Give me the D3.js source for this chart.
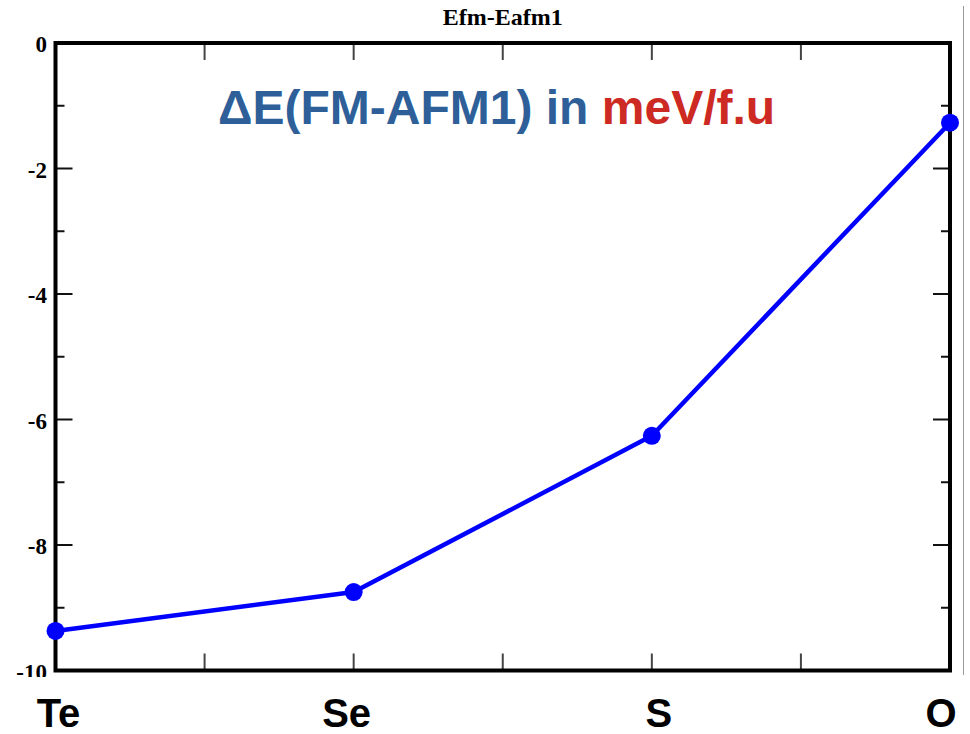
<!DOCTYPE html>
<html>
<head>
<meta charset="utf-8">
<script src="https://cdn.jsdelivr.net/npm/d3@7/dist/d3.min.js"></script>
<style>
  html, body { margin: 0; padding: 0; background: #fff; }
  svg { display: block; }
</style>
</head>
<body>
<script>
// Energy difference between FM and AFM1 orderings across the chalcogen series
const categories = ["Te", "Se", "S", "O"];
const deltaE = [-9.37, -8.75, -6.26, -1.27];
const yMajorTicks = [0, -2, -4, -6, -8, -10];
const yMinorTicks = [-1, -3, -5, -7, -9];
const xTicks = [0, 0.5, 1, 1.5, 2, 2.5, 3];
const plotTitle = "Efm-Eafm1";

const W = 970, H = 734;
const plotLeft = 55.5, plotRight = 950, plotTop = 43, plotBottom = 670.5;

const svg = d3.select("body").append("svg")
  .attr("width", W).attr("height", H);

const x = d3.scaleLinear().domain([0, categories.length - 1]).range([plotLeft, plotRight]);
const y = d3.scaleLinear().domain([-10, 0]).range([plotBottom, plotTop]);

// thin divider line at the right edge
svg.append("line")
  .attr("x1", 963.5).attr("x2", 963.5).attr("y1", 6).attr("y2", 675)
  .attr("stroke", "#999").attr("stroke-width", 1);

// title
svg.append("text")
  .attr("x", (plotLeft + plotRight) / 2).attr("y", 25)
  .attr("text-anchor", "middle")
  .attr("font-family", "'Liberation Serif', 'Times New Roman', serif")
  .attr("font-weight", "bold").attr("font-size", 24)
  .text(plotTitle);

// ticks: inward on all four sides
const tickG = svg.append("g").attr("stroke", "#111").attr("stroke-width", 2);
yMajorTicks.forEach(v => {
  tickG.append("line").attr("x1", plotLeft).attr("x2", plotLeft + 17).attr("y1", y(v)).attr("y2", y(v));
  tickG.append("line").attr("x1", plotRight).attr("x2", plotRight - 17).attr("y1", y(v)).attr("y2", y(v));
});
yMinorTicks.forEach(v => {
  tickG.append("line").attr("x1", plotLeft).attr("x2", plotLeft + 9).attr("y1", y(v)).attr("y2", y(v));
  tickG.append("line").attr("x1", plotRight).attr("x2", plotRight - 9).attr("y1", y(v)).attr("y2", y(v));
});
xTicks.forEach(v => {
  tickG.append("line").attr("x1", x(v)).attr("x2", x(v)).attr("y1", plotBottom).attr("y2", plotBottom - 17).attr("stroke", "#444");
  tickG.append("line").attr("x1", x(v)).attr("x2", x(v)).attr("y1", plotTop).attr("y2", plotTop + 17).attr("stroke", "#444");
});

// y tick labels
svg.append("g")
  .selectAll("text").data(yMajorTicks).join("text")
  .attr("x", 47).attr("y", d => y(d) + 9)
  .attr("text-anchor", "end")
  .attr("font-family", "'Liberation Serif', 'Times New Roman', serif")
  .attr("font-weight", "bold").attr("font-size", 23)
  .text(d => String(d));

// frame
svg.append("rect")
  .attr("x", plotLeft).attr("y", plotTop)
  .attr("width", plotRight - plotLeft).attr("height", plotBottom - plotTop)
  .attr("fill", "none").attr("stroke", "#000").attr("stroke-width", 4);

// data line and markers
const line = d3.line().x((d, i) => x(i)).y(d => y(d));
svg.append("path")
  .datum(deltaE)
  .attr("d", line)
  .attr("fill", "none").attr("stroke", "#0000ff").attr("stroke-width", 4.5)
  .attr("stroke-linejoin", "round");
svg.append("g")
  .selectAll("circle").data(deltaE).join("circle")
  .attr("cx", (d, i) => x(i)).attr("cy", d => y(d))
  .attr("r", 9).attr("fill", "#0000ff");

// annotation
const note = svg.append("text")
  .attr("x", 218).attr("y", 124)
  .attr("font-family", "'Liberation Sans', Arial, sans-serif")
  .attr("font-weight", "bold").attr("font-size", 48);
note.append("tspan").attr("fill", "#2e5f99").text("ΔE(FM-AFM1) in ");
note.append("tspan").attr("fill", "#cc2a22").text("meV/f.u");

// category labels sit on a white band below the axis
svg.append("rect")
  .attr("x", 0).attr("y", 677).attr("width", 962).attr("height", H - 677)
  .attr("fill", "#fff");
const labelNudge = [3, -7, 7, -9];
svg.append("g")
  .selectAll("text").data(categories).join("text")
  .attr("x", (d, i) => x(i) + labelNudge[i]).attr("y", 727)
  .attr("text-anchor", "middle")
  .attr("font-family", "'Liberation Sans', Arial, sans-serif")
  .attr("font-weight", "bold").attr("font-size", 40)
  .text(d => d);
</script>
</body>
</html>
